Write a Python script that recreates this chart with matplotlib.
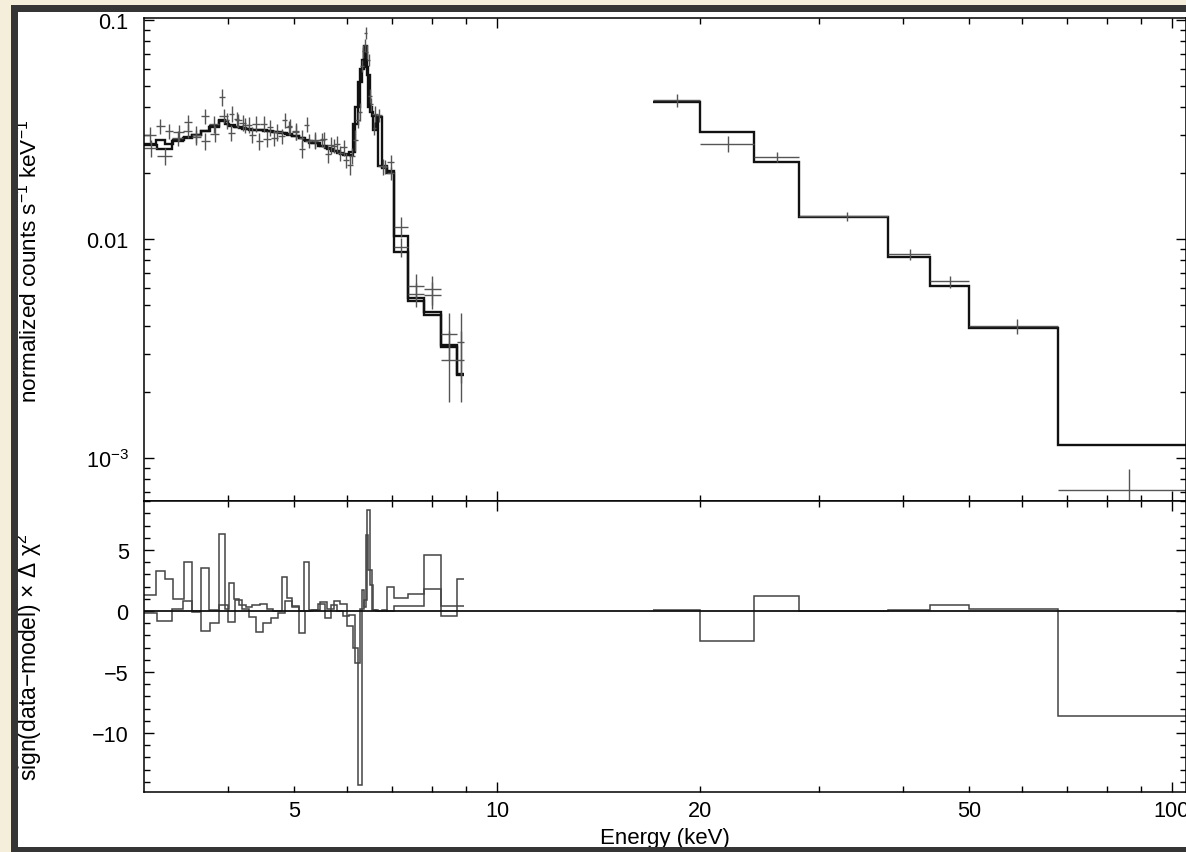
import matplotlib
matplotlib.use("Agg")
import matplotlib.pyplot as plt
import numpy as np
from matplotlib.patches import Rectangle
from matplotlib.ticker import (FixedLocator, FixedFormatter, FuncFormatter,
                               MultipleLocator, NullFormatter, LogLocator)

plt.rcParams['font.family'] = ['Liberation Sans', 'DejaVu Sans']
plt.rcParams['mathtext.fontset'] = 'custom'
plt.rcParams['mathtext.rm'] = 'Liberation Sans'
plt.rcParams['mathtext.it'] = 'Liberation Sans:italic'
plt.rcParams['mathtext.bf'] = 'Liberation Sans:bold'

# ---- low energy spectrum, instrument A (keV bin edges) ----
edges_a = [3.00, 3.125, 3.22, 3.31, 3.44, 3.53, 3.64, 3.74, 3.88, 3.95, 4.01, 4.08,
           4.15, 4.25, 4.34, 4.46, 4.56, 4.66, 4.80, 4.89, 4.97, 5.09, 5.18, 5.27,
           5.47, 5.60, 5.74, 5.85, 6.00, 6.12, 6.22, 6.31, 6.36, 6.40, 6.45, 6.53,
           6.66, 6.88, 7.03, 7.38, 7.80, 8.25, 8.72, 8.95]
model_a = [0.0272, 0.0282, 0.0272, 0.0282, 0.0291, 0.0300, 0.0312, 0.0325, 0.0350, 0.0335,
           0.0328, 0.0323, 0.0320, 0.0317, 0.0315, 0.0313, 0.0311, 0.0308, 0.0304, 0.0300,
           0.0294, 0.0288, 0.0282, 0.0274, 0.0265, 0.0258, 0.0252, 0.0245, 0.0242, 0.0335,
           0.0520, 0.0660, 0.0740, 0.0610, 0.0400, 0.0365, 0.0215, 0.0205, 0.0103, 0.00538,
           0.00464, 0.00328, 0.00242]
rate_a = [0.0300, 0.0328, 0.0311, 0.0307, 0.0343, 0.0300, 0.0364, 0.0334, 0.0445, 0.0348,
          0.0373, 0.0352, 0.0340, 0.0333, 0.0335, 0.0335, 0.0323, 0.0308, 0.0350, 0.0328,
          0.0311, 0.0288, 0.0333, 0.0282, 0.0285, 0.0268, 0.0272, 0.0262, 0.0218, 0.0283,
          0.0382, 0.0720, 0.0768, 0.0716, 0.0452, 0.0373, 0.0215, 0.0225, 0.0114, 0.00613,
          0.00557, 0.00369, 0.00280]
err_a = [0.0025, 0.0026, 0.0025, 0.0026, 0.0027, 0.0027, 0.0028, 0.0029, 0.0040, 0.0030,
         0.0030, 0.0029, 0.0029, 0.0029, 0.0028, 0.0028, 0.0028, 0.0028, 0.0028, 0.0027,
         0.0027, 0.0026, 0.0026, 0.0025, 0.0024, 0.0023, 0.0023, 0.0022, 0.0022, 0.0030,
         0.0036, 0.0050, 0.0055, 0.0050, 0.0032, 0.0030, 0.0018, 0.0017, 0.0012, 0.0008,
         0.0008, 0.0009, 0.0010]
resid_a = [1.3, 3.3, 2.6, 1.0, 4.0, 0.0, 3.5, 0.1, 6.3, 0.2,
           2.3, 1.0, 0.5, 0.3, 0.5, 0.6, 0.2, 0.0, 2.8, 1.1,
           0.4, 0.0, 4.0, 0.1, 0.7, 0.2, 0.8, 0.6, -1.2, -3.0,
           -14.3, 1.7, 0.3, 6.2, 3.4, 0.1, 0.0, 2.0, 1.07, 1.37,
           1.83, 0.4, 0.4]

# ---- low energy spectrum, instrument B ----
edges_b = [3.00, 3.14, 3.30, 3.43, 3.53, 3.64, 3.76, 3.88, 3.99, 4.09, 4.19, 4.29,
           4.39, 4.50, 4.62, 4.74, 4.86, 4.97, 5.09, 5.20, 5.32, 5.44, 5.56, 5.68,
           5.80, 5.92, 6.04, 6.16, 6.27, 6.36, 6.43, 6.48, 6.55, 6.62, 6.75, 6.88,
           7.03, 7.38, 7.80, 8.25, 8.72, 8.95]
model_b = [0.0270, 0.0258, 0.0280, 0.0290, 0.0300, 0.0312, 0.0328, 0.0345, 0.0330, 0.0323,
           0.0319, 0.0316, 0.0314, 0.0312, 0.0309, 0.0306, 0.0301, 0.0295, 0.0288, 0.0281,
           0.0274, 0.0267, 0.0260, 0.0253, 0.0247, 0.0241, 0.0250, 0.0400, 0.0600, 0.0760,
           0.0560, 0.0380, 0.0315, 0.0360, 0.0210, 0.0200, 0.0087, 0.0052, 0.0045, 0.0032,
           0.0024]
rate_b = [0.0260, 0.0239, 0.0289, 0.0311, 0.0292, 0.0280, 0.0302, 0.0365, 0.0305, 0.0348,
          0.0330, 0.0298, 0.0281, 0.0287, 0.0290, 0.0295, 0.0323, 0.0308, 0.0257, 0.0281,
          0.0281, 0.0284, 0.0244, 0.0267, 0.0247, 0.0229, 0.0239, 0.0350, 0.0616, 0.0870,
          0.0657, 0.0413, 0.0321, 0.0367, 0.0214, 0.0200, 0.0092, 0.0056, 0.0059, 0.0028,
          0.0034]
err_b = [0.0022, 0.0021, 0.0022, 0.0023, 0.0024, 0.0025, 0.0026, 0.0028, 0.0026, 0.0026,
         0.0026, 0.0025, 0.0025, 0.0025, 0.0025, 0.0024, 0.0024, 0.0024, 0.0023, 0.0022,
         0.0022, 0.0021, 0.0021, 0.0020, 0.0020, 0.0019, 0.0020, 0.0030, 0.0040, 0.0055,
         0.0040, 0.0028, 0.0022, 0.0025, 0.0015, 0.0014, 0.0009, 0.0007, 0.0009, 0.0010,
         0.0012]
resid_b = [-0.2, -0.85, 0.15, 0.8, -0.1, -1.6, -1.0, 0.5, -0.9, 0.9,
           0.2, -0.5, -1.7, -1.0, -0.6, -0.2, 0.8, 0.3, -1.8, 0.0,
           0.1, 0.6, -0.6, 0.5, 0.0, -0.4, -0.3, -4.3, 0.2, 0.9,
           8.3, 2.1, 0.1, 0.0, 0.1, 0.0, 0.4, 0.4, 4.56, -0.4,
           2.6]

# ---- hard X-ray spectrum ----
edges_c = [17.0, 20.0, 24.0, 28.0, 38.0, 43.8, 50.0, 67.8, 105.0]
model_c = [0.0424, 0.0308, 0.0225, 0.0126, 0.00828, 0.0061, 0.00393, 0.00115]
rate_c = [0.0430, 0.0272, 0.0237, 0.0127, 0.0085, 0.0064, 0.0040, 0.000714]
err_c = [0.0030, 0.0022, 0.0012, 0.0006, 0.0005, 0.0004, 0.0003, 0.00018]
resid_c = [0.05, -2.46, 1.23, 0.02, 0.05, 0.52, 0.16, -8.58]

x_ticks_major = [10, 100]
x_ticks_minor = [4, 5, 6, 7, 8, 9, 20, 30, 40, 50, 60, 70, 80, 90]
x_labelled_minor = {5: '5', 20: '20', 50: '50'}

W, H = 1186, 853
fig = plt.figure(figsize=(W / 100, H / 100), dpi=100, facecolor='#f5eedb')


def px_rect(x0, y0, x1, y1, color, z):
    r = Rectangle((x0 / W, 1 - y1 / H), (x1 - x0) / W, (y1 - y0) / H,
                  transform=fig.transFigure, facecolor=color, edgecolor='none', zorder=z)
    fig.add_artist(r)


# window frame
px_rect(18, 13, W, 848, 'white', -5)
px_rect(11, 6, 18, H, '#353535', 10)
px_rect(11, 6, W, 13, '#353535', 10)
px_rect(11, 848, W, H, '#353535', 10)

ax1 = fig.add_axes([144 / W, 1 - 502 / H, (W - 144) / W, (502 - 19) / H])
ax2 = fig.add_axes([144 / W, 1 - 793 / H, (W - 144) / W, (793 - 502) / H], sharex=ax1)


def crosses(ax, edges, rate, err):
    lo = np.array(edges[:-1])
    hi = np.array(edges[1:])
    mid = (lo + hi) / 2
    ax.errorbar(mid, rate, xerr=[mid - lo, hi - mid], yerr=err, fmt='none',
                ecolor='#555555', elinewidth=1.0, capsize=0)


for e, m, d, s in [(edges_a, model_a, rate_a, err_a),
                   (edges_b, model_b, rate_b, err_b),
                   (edges_c, model_c, rate_c, err_c)]:
    crosses(ax1, e, d, s)
    ax1.stairs(m, e, baseline=None, color='#111111', lw=1.7)

ax2.axhline(0, color='#111111', lw=1.3)
for e, r in [(edges_a, resid_a), (edges_b, resid_b), (edges_c, resid_c)]:
    ax2.stairs(r, e, baseline=None, color='#444444', lw=1.1)

ax1.set_xscale('log')
ax1.set_yscale('log')
ax1.set_xlim(3.0, 104.9)
ax1.set_ylim(6.37e-4, 0.1021)
ax2.set_ylim(-14.84, 9.02)

ax1.yaxis.set_major_locator(FixedLocator([1e-3, 1e-2, 1e-1]))
ax1.yaxis.set_major_formatter(FixedFormatter([r'10$^{-3}$', '0.01', '0.1']))
ax1.yaxis.set_minor_locator(LogLocator(subs=[2, 3, 4, 5, 6, 7, 8, 9]))
ax1.yaxis.set_minor_formatter(NullFormatter())

ax2.xaxis.set_major_locator(FixedLocator(x_ticks_major))
ax2.xaxis.set_major_formatter(FixedFormatter([str(v) for v in x_ticks_major]))
ax2.xaxis.set_minor_locator(FixedLocator(x_ticks_minor))
ax2.xaxis.set_minor_formatter(FuncFormatter(lambda v, p: x_labelled_minor.get(int(round(v)), '')))
ax2.yaxis.set_major_locator(MultipleLocator(5))
ax2.yaxis.set_minor_locator(MultipleLocator(1))

for ax in (ax1, ax2):
    ax.set_facecolor('white')
    ax.tick_params(which='both', direction='in', top=True, right=True,
                   labelsize=15.6, colors='black', width=1.0)
    ax.tick_params(which='major', length=7.5)
    ax.tick_params(which='minor', length=4)
    ax.tick_params(axis='y', which='both', pad=11)
    ax.tick_params(axis='x', which='both', pad=6)
    for sp in ax.spines.values():
        sp.set_linewidth(1.1)
ax1.tick_params(axis='x', which='both', labelbottom=False)

fig.text(29 / W, 1 - 261 / H, r'normalized counts s$^{-1}$ keV$^{-1}$', rotation=90,
         ha='center', va='center', fontsize=16.2)
fig.text(29 / W, 1 - 657 / H, r'sign(data$-$model) × Δ χ$^{2}$', rotation=90,
         ha='center', va='center', fontsize=16.5)
fig.text(665 / W, 1 - 839 / H, 'Energy (keV)', ha='center', va='center', fontsize=16, zorder=3)

fig.savefig('out.png', dpi=100, facecolor=fig.get_facecolor())
